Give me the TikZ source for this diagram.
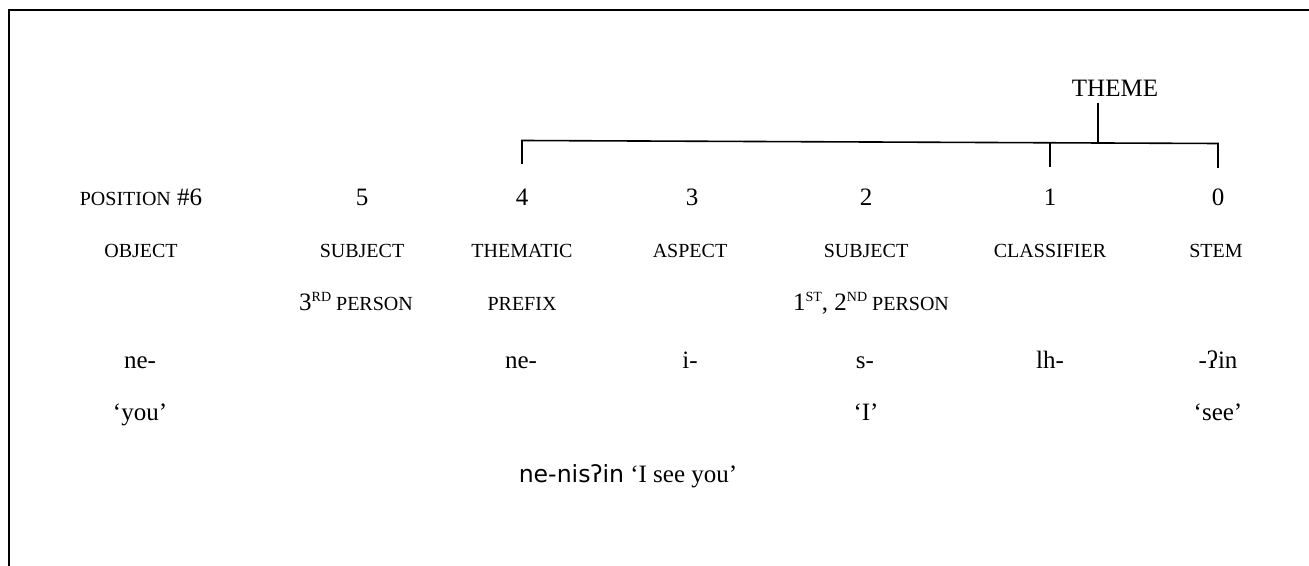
\documentclass[tikz,border=0pt]{standalone}
\usepackage{fontspec}
\setmainfont{Liberation Serif}
\newfontfamily\ipasans{DejaVu Sans}
\newcommand{\bigsz}{\fontsize{12.5}{14}\selectfont}
\newcommand{\capsz}{\fontsize{10}{11}\selectfont}
\newcommand{\supsc}[1]{\raisebox{0.95ex}{\fontsize{7}{8}\selectfont #1}}
\begin{document}
\begin{tikzpicture}[x=0.5pt,y=-0.5pt,
  big/.style={font=\bigsz, inner sep=0, anchor=base},
  lbl/.style={font=\capsz, inner sep=0, anchor=base},
  frame/.style={line width=1.4pt},
  brk/.style={line width=0.8pt}]
\useasboundingbox (0,0) rectangle (1309,566);
\draw[frame] (9,566) -- (9,10) -- (1309,10);

% theme label and bracket
\node[big] (theme) at (1115,97) {THEME};
\coordinate (tt) at (1098,103);
\coordinate (tb) at (1098,143);
\coordinate (b4) at (522,140.5);
\coordinate (b1) at (1050,142.5);
\coordinate (b0) at (1218,143.5);
\coordinate (e4) at (522,164);
\coordinate (e1) at (1050,167);
\coordinate (e0) at (1218,168);
\draw[brk] (tt) -- (tb);
\draw[brk] (e4) -- (b4) -- (b0) -- (e0);
\draw[brk] (b1) -- (e1);

% position numbers
\node[big] (p6) at (141,206) {{\capsz POSITION} \#6};
\node[big] (p5) at (362,206) {5};
\node[big] (p4) at (522,206) {4};
\node[big] (p3) at (692,206) {3};
\node[big] (p2) at (866,206) {2};
\node[big] (p1) at (1050,206) {1};
\node[big] (p0) at (1218,206) {0};

% categories
\node[lbl] (c6) at (141,257) {OBJECT};
\node[lbl] (c5) at (362,257) {SUBJECT};
\node[lbl] (c4) at (522,257) {THEMATIC};
\node[lbl] (c3) at (690,257) {ASPECT};
\node[lbl] (c2) at (866,257) {SUBJECT};
\node[lbl] (c1) at (1050,257) {CLASSIFIER};
\node[lbl] (c0) at (1216,257) {STEM};

\node[lbl] (d5) at (356,310) {{\bigsz 3}\supsc{RD} PERSON};
\node[lbl] (d4) at (522,310) {PREFIX};
\node[lbl] (d2) at (871,310) {{\bigsz 1}\supsc{ST}{\bigsz , 2}\supsc{ND} PERSON};

% morphemes
\node[big] (m6) at (140,368) {ne-};
\node[big] (m4) at (521,368) {ne-};
\node[big] (m3) at (690,368) {i-};
\node[big] (m2) at (865,368) {s-};
\node[big] (m1) at (1050,368) {lh-};
\node[big] (m0) at (1218,368) {-ʔin};

% glosses
\node[big] (g6) at (140,420) {‘you’};
\node[big] (g2) at (866,420) {‘I’};
\node[big] (g0) at (1218,420) {‘see’};

% whole word
\node[big] (w) at (628,482) {{\ipasans\fontsize{11.8}{13}\selectfont ne-nisʔin} ‘I see you’};
\end{tikzpicture}
\end{document}
